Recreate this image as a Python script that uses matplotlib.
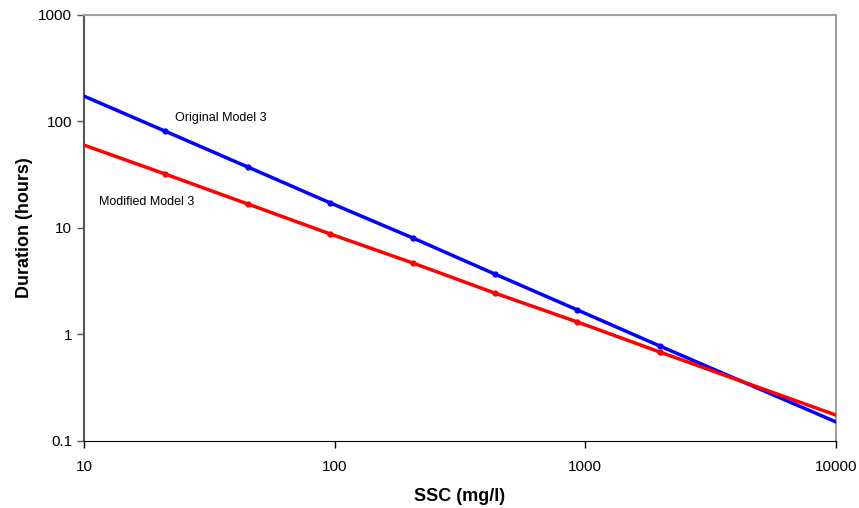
import matplotlib
matplotlib.use("Agg")
import matplotlib.pyplot as plt
from matplotlib.ticker import FixedLocator, FixedFormatter, NullLocator

plt.rcParams['font.family'] = ['Liberation Sans', 'DejaVu Sans']

# SSC values (mg/l); the end points carry no marker
ssc = [10, 21, 45, 96, 205, 435, 930, 1980, 10000]
original_model = [173, 81.4, 37.4, 17.2, 8.06, 3.70, 1.70, 0.78, 0.151]
modified_model = [60, 32.2, 16.8, 8.79, 4.69, 2.45, 1.31, 0.685, 0.175]

x_ticks = [10, 100, 1000, 10000]
x_labels = ["10", "100", "1000", "10000"]
y_ticks = [0.1, 1, 10, 100, 1000]
y_labels = ["0.1", "1", "10", "100", "1000"]

fig = plt.figure(figsize=(8.59, 5.08), dpi=100)
ax = fig.add_axes([0.0978, 0.1319, 0.8754, 0.8386])

marks = list(range(1, len(ssc) - 1))
ax.plot(ssc, original_model, '-o', color='#0000ff', lw=2.5, ms=3.5,
        markevery=marks, zorder=3)
ax.plot(ssc, modified_model, '-o', color='#ff0000', lw=2.5, ms=3.5,
        markevery=marks, zorder=3)

ax.set_xscale('log')
ax.set_yscale('log')
ax.set_xlim(10, 10000)
ax.set_ylim(0.1, 1000)

ax.xaxis.set_major_locator(FixedLocator(x_ticks))
ax.xaxis.set_major_formatter(FixedFormatter(x_labels))
ax.xaxis.set_minor_locator(NullLocator())
ax.yaxis.set_major_locator(FixedLocator(y_ticks))
ax.yaxis.set_major_formatter(FixedFormatter(y_labels))
ax.yaxis.set_minor_locator(NullLocator())
ax.tick_params(axis='both', labelsize=11, length=5, width=1, direction='out')
ax.tick_params(axis='x', pad=9, color='black')
ax.tick_params(axis='y', color='#555555')

ax.spines['left'].set_color('#555555')
ax.spines['left'].set_linewidth(1.5)
ax.spines['bottom'].set_color('black')
ax.spines['top'].set_color('#a0a0a0')
ax.spines['top'].set_linewidth(1.5)
ax.spines['right'].set_color('#a0a0a0')
ax.spines['right'].set_linewidth(1.5)

ax.set_xlabel('SSC (mg/l)', fontsize=13, fontweight='bold', labelpad=10)
ax.set_ylabel('Duration (hours)', fontsize=13, fontweight='bold', labelpad=4)

ax.text(23, 108, 'Original Model 3', fontsize=9, va='center')
ax.text(11.5, 17.5, 'Modified Model 3', fontsize=9, va='center')

fig.savefig('out.png', dpi=100)
